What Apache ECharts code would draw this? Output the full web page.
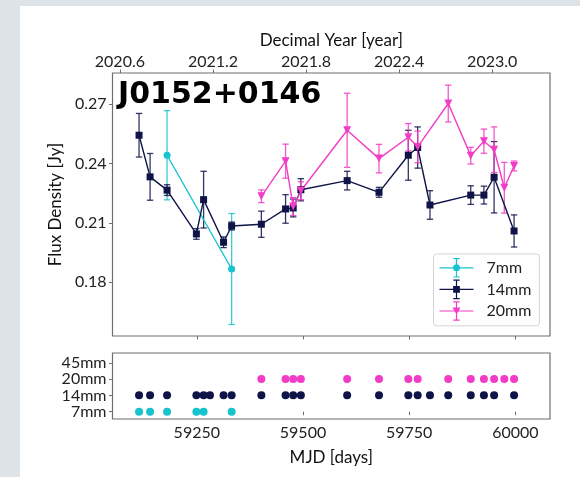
<!DOCTYPE html>
<html>
<head>
<meta charset="utf-8">
<script src="https://cdn.jsdelivr.net/npm/echarts@6/dist/echarts.min.js"></script>
<style>
  html, body { margin: 0; padding: 0; background: #dde3e7; }
  #chart { width: 580px; height: 477px; }
</style>
</head>
<body>
<div id="chart"></div>
<script>
// observing epochs (MJD) per band, flux density [Jy] and 1-sigma error (null = not in light curve)
const mjd7 = [59114, 59140, 59180, 59249, 59266, 59332];
const flux7 = [null, null, 0.2441, null, null, 0.1867];
const err7 = [null, null, 0.0225, null, null, 0.028];

const mjd14 = [59114, 59140, 59180, 59249, 59266, 59281, 59313, 59332, 59402, 59459, 59477,
  59495, 59604, 59679, 59748, 59770, 59799, 59842, 59895, 59926, 59950, 59997];
const flux14 = [0.2542, 0.2332, 0.2265, 0.2044, 0.2217, null, 0.2002, 0.2084, 0.2093, 0.2170, 0.2175,
  0.2267, 0.2313, 0.2254, 0.2441, 0.2480, 0.2190, null, 0.2240, 0.2240, 0.2330, 0.2059];
const err14 = [0.011, 0.0118, 0.0027, 0.0027, 0.0143, null, 0.0027, 0.002, 0.0066, 0.0072, 0.0045,
  0.0056, 0.0047, 0.0025, 0.0126, 0.0104, 0.0072, null, 0.0047, 0.0045, 0.018, 0.0081];

const mjd20 = [59402, 59459, 59477, 59495, 59604, 59679, 59748, 59770, 59842, 59895, 59926,
  59950, 59974, 59997];
const flux20 = [0.2234, 0.2411, 0.2182, 0.2262, 0.2567, 0.2424, 0.2532, 0.2483, 0.2702, 0.2439, 0.2512,
  0.2469, 0.2277, 0.2387];
const err20 = [0.0032, 0.0086, 0.0045, 0.0045, 0.0187, 0.0072, 0.0069, 0.008, 0.0093, 0.0042, 0.0061,
  0.0115, 0.0128, 0.0025];

const bands = ['7mm', '14mm', '20mm', '45mm'];
const fluxTicks = [0.18, 0.21, 0.24, 0.27];
const mjdTicks = [59250, 59500, 59750, 60000];
const yearTicks = [2020.6, 2021.2, 2021.8, 2022.4, 2023.0];
const sourceName = 'J0152+0146';

const mjdMin = 59051.5, mjdMax = 60081.6;
const toYear = m => 2021 + (m - 59215) / 365.25; // MJD 59215 = 2021-01-01

const colors = { '7mm': '#17c3cf', '14mm': '#0f1448', '20mm': '#f23cc6' };
const FONT = 'Lato';

function points(mjd, flux) {
  return mjd.map((m, i) => [m, flux[i]]).filter(d => d[1] != null);
}
function errData(mjd, flux, err) {
  const out = [];
  mjd.forEach((m, i) => { if (flux[i] != null) out.push([m, flux[i] - err[i], flux[i] + err[i]]); });
  return out;
}

function renderErrorBar(params, api) {
  const x = api.value(0);
  const lo = api.coord([x, api.value(1)]);
  const hi = api.coord([x, api.value(2)]);
  const cap = 3.2;
  const style = { stroke: api.visual('color'), lineWidth: 1.3, opacity: 0.85 };
  return {
    type: 'group',
    children: [
      { type: 'line', shape: { x1: lo[0], y1: lo[1], x2: hi[0], y2: hi[1] }, style },
      { type: 'line', shape: { x1: lo[0] - cap, y1: lo[1], x2: lo[0] + cap, y2: lo[1] }, style },
      { type: 'line', shape: { x1: hi[0] - cap, y1: hi[1], x2: hi[0] + cap, y2: hi[1] }, style }
    ]
  };
}

// legend glyphs: line + error bar + marker, drawn in a 34x22 box
const base = 'M0 10.4H34V11.6H0Z M16.4 1.8H17.6V20.2H16.4Z M13.8 1.2H20.2V2.4H13.8Z M13.8 19.6H20.2V20.8H13.8Z ';
const legendIcons = {
  '7mm': 'path://' + base + 'M20.5 11A3.5 3.5 0 1 1 13.5 11A3.5 3.5 0 1 1 20.5 11Z',
  '14mm': 'path://' + base + 'M13.6 7.6H20.4V14.4H13.6Z',
  '20mm': 'path://' + base + 'M13 7.5H21L17 14.5Z'
};

const axisFrame = '#6e6e6e';
const labelStyle = { color: '#222', fontFamily: FONT, fontSize: 16 };
const nameStyle = { color: '#111', fontFamily: FONT, fontSize: 17 };

function lineSeries(name, mjd, flux, symbol, size, rotate) {
  return {
    name, type: 'line', xAxisIndex: 0, yAxisIndex: 0,
    data: points(mjd, flux),
    symbol, symbolSize: size, symbolRotate: rotate || 0, showAllSymbol: true,
    itemStyle: { color: colors[name] },
    lineStyle: { color: colors[name], width: 1.4 },
    emphasis: { disabled: true }, animation: false
  };
}
function errSeries(name, mjd, flux, err) {
  return {
    name, type: 'custom', xAxisIndex: 0, yAxisIndex: 0,
    data: errData(mjd, flux, err),
    encode: { x: 0, y: [1, 2] },
    renderItem: renderErrorBar,
    itemStyle: { color: colors[name] },
    animation: false
  };
}
function obsSeries(name, mjd) {
  const row = bands.indexOf(name);
  return {
    name, type: 'scatter', xAxisIndex: 2, yAxisIndex: 1,
    data: mjd.map(m => [m, row]),
    symbol: 'circle', symbolSize: 8,
    itemStyle: { color: colors[name], opacity: 1 },
    emphasis: { disabled: true }, animation: false
  };
}

const chart = echarts.init(document.getElementById('chart'), null, { renderer: 'canvas' });
chart.setOption({
  backgroundColor: '#dde3e7',
  animation: false,
  graphic: [
    { type: 'rect', z: -10, shape: { x: 20, y: 6, width: 560, height: 471 }, style: { fill: '#ffffff' } },
    {
      type: 'text', z: 50, left: 118, top: 80,
      style: { text: sourceName, fontFamily: 'DejaVu Sans', fontWeight: 'bold', fontSize: 30, fill: '#000' }
    }
  ],
  grid: [
    { left: 112.5, top: 73, width: 437.5, height: 263, show: true, borderColor: axisFrame, borderWidth: 1.2, backgroundColor: 'transparent' },
    { left: 112.5, top: 353, width: 437.5, height: 66, show: true, borderColor: axisFrame, borderWidth: 1.2, backgroundColor: 'transparent' }
  ],
  legend: {
    orient: 'vertical', left: 433.5, top: 254,
    data: ['7mm', '14mm', '20mm'].map(n => ({ name: n, icon: legendIcons[n] })),
    itemWidth: 34, itemHeight: 22, itemGap: 2,
    itemStyle: { borderWidth: 0 },
    textStyle: { color: '#222', fontFamily: FONT, fontSize: 16, padding: [0, 0, 0, 8] },
    backgroundColor: '#fff', borderColor: '#d4d4d4', borderWidth: 1, borderRadius: 3,
    padding: [4, 8, 5, 6], selectedMode: false
  },
  xAxis: [
    {
      type: 'value', gridIndex: 0, position: 'bottom', min: mjdMin, max: mjdMax,
      axisLine: { show: false }, splitLine: { show: false },
      axisTick: { show: true, length: 3.5, customValues: mjdTicks, lineStyle: { color: axisFrame, width: 1 } },
      axisLabel: { show: false }
    },
    {
      type: 'value', gridIndex: 0, position: 'top', min: toYear(mjdMin), max: toYear(mjdMax),
      name: 'Decimal Year [year]', nameLocation: 'middle', nameGap: 20, nameTextStyle: nameStyle,
      axisLine: { show: false }, splitLine: { show: false },
      axisTick: { show: true, length: 3.5, customValues: yearTicks, lineStyle: { color: axisFrame, width: 1 } },
      axisLabel: Object.assign({ customValues: yearTicks, margin: 3.5, formatter: v => v.toFixed(1) }, labelStyle)
    },
    {
      type: 'value', gridIndex: 1, position: 'bottom', min: mjdMin, max: mjdMax,
      name: 'MJD [days]', nameLocation: 'middle', nameGap: 30, nameTextStyle: nameStyle,
      axisLine: { show: false }, splitLine: { show: false },
      axisTick: { show: true, length: 3.5, customValues: mjdTicks, lineStyle: { color: axisFrame, width: 1 } },
      axisLabel: Object.assign({ customValues: mjdTicks, margin: 6, formatter: v => String(v) }, labelStyle)
    }
  ],
  yAxis: [
    {
      type: 'value', gridIndex: 0, min: 0.1529, max: 0.2856,
      name: 'Flux Density [Jy]', nameLocation: 'middle', nameGap: 42, nameTextStyle: nameStyle,
      axisLine: { show: false }, splitLine: { show: false },
      axisTick: { show: true, length: 3.5, customValues: fluxTicks, lineStyle: { color: axisFrame, width: 1 } },
      axisLabel: Object.assign({ customValues: fluxTicks, margin: 6, formatter: v => v.toFixed(2) }, labelStyle)
    },
    {
      type: 'value', gridIndex: 1, min: -0.45, max: 3.6,
      axisLine: { show: false }, splitLine: { show: false },
      axisTick: { show: true, length: 3.5, customValues: [0, 1, 2, 3], lineStyle: { color: axisFrame, width: 1 } },
      axisLabel: Object.assign({ customValues: [0, 1, 2, 3], margin: 6, formatter: v => bands[Math.round(v)] }, labelStyle)
    }
  ],
  series: [
    errSeries('7mm', mjd7, flux7, err7),
    lineSeries('7mm', mjd7, flux7, 'circle', 7),
    errSeries('14mm', mjd14, flux14, err14),
    lineSeries('14mm', mjd14, flux14, 'rect', 7),
    errSeries('20mm', mjd20, flux20, err20),
    lineSeries('20mm', mjd20, flux20, 'triangle', 8, 180),
    obsSeries('7mm', mjd7),
    obsSeries('14mm', mjd14),
    obsSeries('20mm', mjd20)
  ]
});
</script>
</body>
</html>
